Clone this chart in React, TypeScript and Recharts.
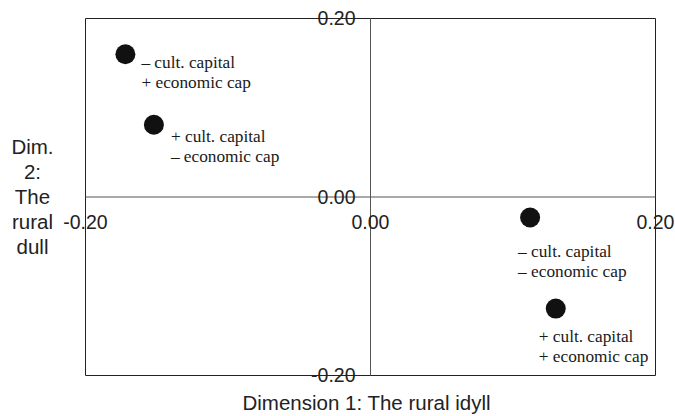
import React from 'react';
import { ScatterChart, Scatter, XAxis, YAxis, ReferenceArea, ReferenceLine, ReferenceDot } from 'recharts';

// Data
const dim1 = [-0.172, -0.152, 0.112, 0.13];
const dim2 = [0.16, 0.081, -0.023, -0.125];
const culturalLabels = ['– cult. capital', '+ cult. capital', '– cult. capital', '+ cult. capital'];
const economicLabels = ['+ economic cap', '– economic cap', '– economic cap', '+ economic cap'];
const xTicks = [-0.2, 0, 0.2];
const yTicks = [-0.2, 0, 0.2];
const xTitle = 'Dimension 1: The rural idyll';
const yTitleLines = ['Dim.', '2:', 'The', 'rural', 'dull'];

// Layout: label offset from point centre (text start, first baseline)
const labelOffsets: [number, number][] = [
  [16, 14],
  [17, 17],
  [-12, 39],
  [-17, 33],
];

const data = dim1.map((x, i) => ({ x, y: dim2[i], idx: i }));

const SANS = '"Liberation Sans", Arial, Helvetica, sans-serif';
const SERIF = '"Liberation Serif", "Times New Roman", serif';
const fmt = (v: number) => v.toFixed(2);

const PointShape = (props: any) => {
  const { cx, cy, payload } = props;
  const i = payload.idx;
  const [dx, dy] = labelOffsets[i];
  return (
    <g>
      <circle cx={cx} cy={cy} r={10} fill="#111" />
      <text x={cx + dx} y={cy + dy} fontFamily={SERIF} fontSize={17.3} fill="#1a1a1a">
        <tspan x={cx + dx}>{culturalLabels[i]}</tspan>
        <tspan x={cx + dx} dy={20}>{economicLabels[i]}</tspan>
      </text>
    </g>
  );
};

const YTitle = (props: any) => {
  const { viewBox } = props;
  const cx = viewBox.x + 32.5;
  const cy = viewBox.y + viewBox.height / 2;
  const lh = 25.2;
  const first = cy - ((yTitleLines.length - 1) / 2) * lh + 7;
  return (
    <text x={cx} y={first} textAnchor="middle" fontFamily={SANS} fontSize={20.5} fill="#222">
      {yTitleLines.map((l, i) => (
        <tspan key={i} x={cx} dy={i === 0 ? 0 : lh}>
          {l}
        </tspan>
      ))}
    </text>
  );
};

const XTitle = (props: any) => {
  const { viewBox } = props;
  return (
    <text
      x={viewBox.x + viewBox.width / 2 - 4}
      y={viewBox.y + 34.5}
      textAnchor="middle"
      fontFamily={SANS}
      fontSize={20.5}
      fill="#222"
    >
      {xTitle}
    </text>
  );
};

const makeXTick = (v: number) => (p: any) => (
  <text
    x={p.viewBox.x}
    y={p.viewBox.y + 32}
    textAnchor="middle"
    fontFamily={SANS}
    fontSize={19.5}
    fill="#222"
  >
    {fmt(v)}
  </text>
);

const makeYTick = (v: number) => (p: any) => (
  <text
    x={p.viewBox.x - 15}
    y={p.viewBox.y}
    dy="0.355em"
    textAnchor="end"
    fontFamily={SANS}
    fontSize={19.5}
    fill="#222"
  >
    {fmt(v)}
  </text>
);

export default function App() {
  return (
    <div style={{ position: 'absolute', left: 0, top: 0, background: '#fff' }}>
      <ScatterChart width={675} height={416} margin={{ top: 18.5, right: 19.5, bottom: 0, left: 0 }}>
        <XAxis
          type="number"
          dataKey="x"
          domain={[-0.2, 0.2]}
          ticks={xTicks}
          allowDataOverflow
          height={40.5}
          tick={false}
          axisLine={false}
          tickLine={false}
          label={<XTitle />}
        />
        <YAxis
          type="number"
          dataKey="y"
          domain={[-0.2, 0.2]}
          ticks={yTicks}
          allowDataOverflow
          width={85.5}
          tick={false}
          axisLine={false}
          tickLine={false}
          label={<YTitle />}
        />
        <ReferenceArea
          x1={-0.2}
          x2={0.2}
          y1={-0.2}
          y2={0.2}
          fill="none"
          fillOpacity={0}
          stroke="#222"
          strokeWidth={1}
          ifOverflow="visible"
        />
        <ReferenceLine x={0} stroke="#555" strokeWidth={1} ifOverflow="visible" />
        <ReferenceLine y={0} stroke="#555" strokeWidth={1} ifOverflow="visible" />
        {yTicks.map((v) => (
          <ReferenceDot
            key={'yt' + v}
            x={0}
            y={v}
            r={0}
            fill="none"
            stroke="none"
            ifOverflow="visible"
            label={makeYTick(v)}
          />
        ))}
        {xTicks.map((v) => (
          <ReferenceDot
            key={'xt' + v}
            x={v}
            y={0}
            r={0}
            fill="none"
            stroke="none"
            ifOverflow="visible"
            label={makeXTick(v)}
          />
        ))}
        <Scatter data={data} isAnimationActive={false} shape={PointShape} />
      </ScatterChart>
    </div>
  );
}
